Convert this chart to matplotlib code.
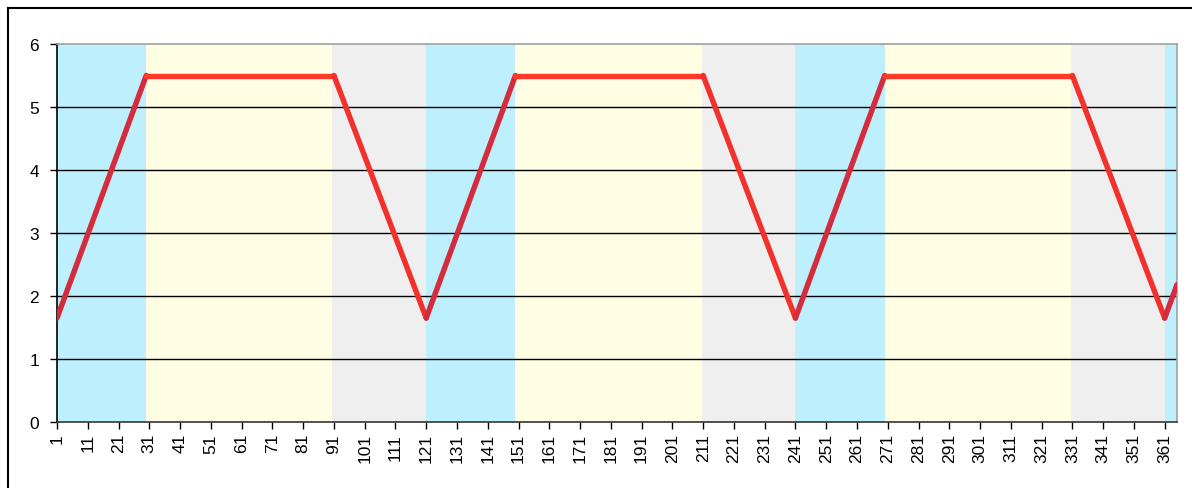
import numpy as np
import matplotlib
matplotlib.use("Agg")
import matplotlib.pyplot as plt
from matplotlib.lines import Line2D

plt.rcParams['font.family'] = ['Liberation Sans', 'DejaVu Sans']

# turning points of the series (day, value)
dias = [1, 30, 91, 121, 150, 211, 241, 270, 331, 361, 365]
valores = [1.65, 5.5, 5.5, 1.65, 5.5, 5.5, 1.65, 5.5, 5.5, 1.65, 2.18]

# background bands (start day, end day, kind)
bandas_ini = [1, 30, 90.5, 121, 150, 210.5, 241, 270, 330.5, 361]
bandas_fin = [30, 90.5, 121, 150, 210.5, 241, 270, 330.5, 361, 365]
bandas_tipo = ['azul', 'amarillo', 'gris', 'azul', 'amarillo', 'gris',
               'azul', 'amarillo', 'gris', 'azul']

colores_banda = {'azul': '#BDEFFC', 'amarillo': '#FFFDE2', 'gris': '#EFEFEF'}
colores_linea = {'azul': '#D42C3E', 'amarillo': '#FF3A2A', 'gris': '#F2302C'}

etiquetas_x = list(range(1, 362, 10))

fig = plt.figure(figsize=(11.92, 4.89), dpi=100)
ax = fig.add_axes([57/1192, 1 - 423/489, (1177-57)/1192, (423-45)/489])

for a, b, t in zip(bandas_ini, bandas_fin, bandas_tipo):
    ax.axvspan(a, b, color=colores_banda[t], lw=0, zorder=0)

for y in range(1, 6):
    ax.axhline(y, color='black', lw=1, zorder=1)

# each segment takes the colour of the band it sits over
for i in range(len(dias) - 1):
    xm = 0.5 * (dias[i] + dias[i+1])
    tipo = 'gris'
    for a, b, t in zip(bandas_ini, bandas_fin, bandas_tipo):
        if a <= xm <= b:
            tipo = t
    ax.plot(dias[i:i+2], valores[i:i+2], color=colores_linea[tipo],
            lw=3.9, solid_capstyle='round', zorder=3, clip_on=True)

ax.set_xlim(1, 365)
ax.set_ylim(0, 6)
ax.set_yticks(range(0, 7))
ax.set_xticks(etiquetas_x)
ax.set_xticklabels([str(v) for v in etiquetas_x], rotation=90)
ax.tick_params(axis='both', direction='out', length=5, width=1,
               labelsize=12.5, colors='black', pad=3)
ax.tick_params(axis='y', pad=8)

ax.spines['left'].set_color('black')
ax.spines['bottom'].set_color('#333333')
ax.spines['top'].set_color('#A0A0A0')
ax.spines['right'].set_color('#A0A0A0')
for s in ax.spines.values():
    s.set_linewidth(1.2)

# frame around the chart area (left and top edges)
fig.add_artist(Line2D([8/1192, 8/1192], [0, 1 - 9/489], color='black', lw=1.5))
fig.add_artist(Line2D([8/1192, 1], [1 - 9/489, 1 - 9/489], color='black', lw=1.5))

fig.savefig('out.png', dpi=100)
